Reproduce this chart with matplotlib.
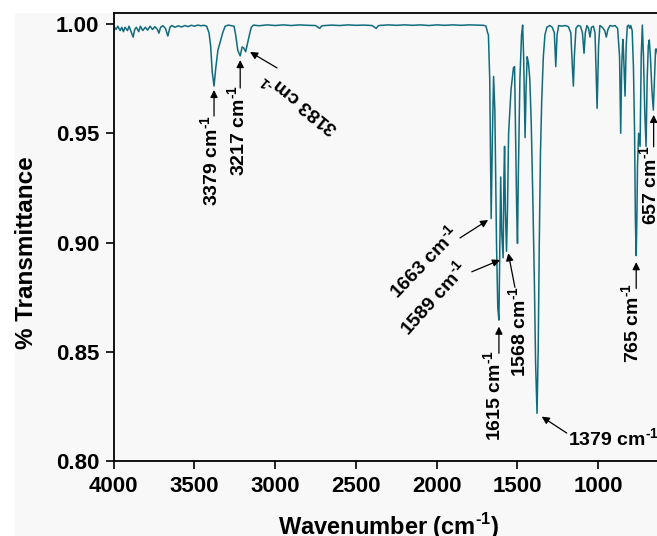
import matplotlib
matplotlib.use('Agg')
import matplotlib.pyplot as plt
from matplotlib.patches import Rectangle

plt.rcParams['font.family'] = ['Liberation Sans', 'DejaVu Sans']
plt.rcParams['font.weight'] = 'bold'
plt.rcParams['mathtext.fontset'] = 'custom'
plt.rcParams['mathtext.rm'] = 'Liberation Sans:bold'
plt.rcParams['mathtext.bf'] = 'Liberation Sans:bold'

# --- Data ---
wavenumber = [
    4000, 3985, 3975, 3960, 3950, 3940, 3930, 3915, 3905, 3890, 3880, 3870,
    3860, 3845, 3835, 3820, 3805, 3790, 3775, 3760, 3745, 3730, 3720, 3710,
    3695, 3680, 3665, 3652, 3640, 3620, 3600, 3580, 3560, 3540, 3520, 3500,
    3480, 3460, 3440, 3425, 3410, 3400, 3390, 3379, 3368, 3355, 3340, 3325,
    3310, 3290, 3270, 3255, 3245, 3232, 3217, 3205, 3195, 3183, 3172, 3160,
    3148, 3135, 3100, 3050, 3000, 2950, 2900, 2850, 2800, 2750, 2725, 2710,
    2650, 2600, 2550, 2500, 2450, 2400, 2375, 2360, 2300, 2250, 2200, 2150,
    2100, 2050, 2000, 1950, 1900, 1850, 1800, 1750, 1710, 1695, 1685, 1680,
    1672, 1663, 1655, 1648, 1640, 1630, 1622, 1615, 1609, 1604, 1598, 1589,
    1584, 1580, 1575, 1568, 1562, 1555, 1540, 1525, 1518, 1512, 1505, 1500,
    1495, 1485, 1475, 1468, 1462, 1453, 1447, 1440, 1432, 1424, 1415, 1405,
    1395, 1388, 1379, 1372, 1365, 1358, 1350, 1340, 1330, 1318, 1300, 1285,
    1272, 1263, 1255, 1245, 1225, 1205, 1185, 1170, 1160, 1154, 1148, 1138,
    1125, 1110, 1098, 1088, 1080, 1070, 1060, 1051, 1042, 1030, 1020, 1007,
    998, 990, 975, 960, 950, 940, 927, 910, 896, 880, 868, 861,
    855, 848, 844, 834, 827, 820, 812, 805, 799, 790, 782, 775,
    770, 765, 760, 757, 750, 741, 734, 727, 720, 712, 704, 697,
    690, 684, 677, 668, 659, 652, 645, 638, 630, 620, 610, 600,
]
transmittance = [
    0.9990, 0.9975, 0.9990, 0.9970, 0.9985, 0.9965, 0.9985, 0.9970, 0.9990, 0.9960, 0.9940, 0.9975,
    0.9985, 0.9965, 0.9990, 0.9970, 0.9985, 0.9972, 0.9990, 0.9975, 0.9988, 0.9975, 0.9958, 0.9985,
    0.9992, 0.9980, 0.9945, 0.9985, 0.9993, 0.9985, 0.9992, 0.9986, 0.9993, 0.9988, 0.9994, 0.9990,
    0.9995, 0.9992, 0.9994, 0.9990, 0.9960, 0.9900, 0.9780, 0.9716, 0.9800, 0.9880, 0.9920, 0.9960,
    0.9990, 0.9995, 0.9992, 0.9990, 0.9950, 0.9880, 0.9854, 0.9895, 0.9890, 0.9873, 0.9910, 0.9950,
    0.9985, 0.9995, 0.9992, 0.9996, 0.9993, 0.9996, 0.9993, 0.9996, 0.9994, 0.9993, 0.9980, 0.9992,
    0.9995, 0.9993, 0.9996, 0.9994, 0.9995, 0.9993, 0.9980, 0.9993, 0.9996, 0.9994, 0.9996, 0.9994,
    0.9996, 0.9993, 0.9996, 0.9994, 0.9996, 0.9994, 0.9996, 0.9995, 0.9994, 0.9990, 0.9960, 0.9950,
    0.9750, 0.9110, 0.9500, 0.9760, 0.9600, 0.9000, 0.8700, 0.8645, 0.9000, 0.9300, 0.9050, 0.8930,
    0.9300, 0.9440, 0.9150, 0.8960, 0.9150, 0.9500, 0.9700, 0.9800, 0.9805, 0.9500, 0.9150, 0.8996,
    0.9300, 0.9750, 0.9950, 0.9995, 0.9850, 0.9480, 0.9700, 0.9850, 0.9820, 0.9750, 0.9550, 0.9200,
    0.8800, 0.8450, 0.8218, 0.8500, 0.9000, 0.9400, 0.9650, 0.9850, 0.9950, 0.9985, 0.9993, 0.9985,
    0.9960, 0.9805, 0.9950, 0.9993, 0.9990, 0.9993, 0.9988, 0.9960, 0.9800, 0.9716, 0.9850, 0.9980,
    0.9993, 0.9990, 0.9960, 0.9866, 0.9960, 0.9993, 0.9980, 0.9940, 0.9985, 0.9990, 0.9960, 0.9614,
    0.9900, 0.9993, 0.9985, 0.9970, 0.9940, 0.9975, 0.9993, 0.9990, 0.9993, 0.9980, 0.9850, 0.9500,
    0.9800, 0.9930, 0.9880, 0.9670, 0.9900, 0.9990, 0.9995, 0.9980, 0.9993, 0.9970, 0.9800, 0.9500,
    0.9100, 0.8940, 0.9150, 0.9350, 0.9500, 0.9440, 0.9850, 0.9995, 0.9850, 0.9600, 0.9440, 0.9750,
    0.9900, 0.9927, 0.9850, 0.9700, 0.9606, 0.9750, 0.9885, 0.9885, 0.9850, 0.9900, 0.9880, 0.9900,
]

# peak labels: (label, text pos, rotation, ha, va, arrow tail, arrow head)
peak_labels = [
    ('3379', (3354, 0.9584), 90, 'right', 'baseline', (3379, 0.9579), (3379, 0.9698)),
    ('3217', (3187, 0.9721), 90, 'right', 'baseline', (3217, 0.9707), (3217, 0.9835)),
    ('3183', (2846, 0.9638), 141, 'center', 'center', (2989, 0.9799), (3156, 0.9872)),
    ('1663', (2079, 0.8911), 46, 'center', 'center', (1856, 0.9021), (1682, 0.9103)),
    ('1589', (2017, 0.8746), 48, 'center', 'center', (1783, 0.8866), (1608, 0.8920)),
    ('1568', (1447, 0.8800), 90, 'right', 'baseline', (1516, 0.8795), (1557, 0.8951)),
    ('1615', (1602, 0.8508), 90, 'right', 'baseline', (1615, 0.8493), (1615, 0.8615)),
    ('1379', (1187, 0.8069), 0, 'left', 'baseline', (1195, 0.8128), (1350, 0.8203)),
    ('765', (747, 0.8813), 90, 'right', 'baseline', (765, 0.8790), (765, 0.8910)),
    ('657', (636, 0.9446), 90, 'right', 'baseline', (657, 0.9438), (657, 0.9584)),
]

xticks = [4000, 3500, 3000, 2500, 2000, 1500, 1000]
yticks = [0.80, 0.85, 0.90, 0.95, 1.00]

unit = r' cm$^{\mathbf{\text{-}1}}$'

# --- Figure ---
bg = '#f8f8f8'
fig = plt.figure(figsize=(6.57, 5.36), dpi=100, facecolor=bg)
fig.patches.append(Rectangle((0, 0), 14 / 657, 1, transform=fig.transFigure,
                             color='white', zorder=-5))
fig.patches.append(Rectangle((0, 1 - 12 / 536), 1, 12 / 536, transform=fig.transFigure,
                             color='white', zorder=-5))
ax = fig.add_axes([0.1731, 0.1399, 0.8358, 0.8353])
ax.set_facecolor(bg)

ax.plot(wavenumber, transmittance, color='#106b7d', lw=1.1)

for label, txt, rot, ha, va, tail, head in peak_labels:
    ax.text(txt[0], txt[1], label + unit, rotation=rot,
            rotation_mode='anchor', ha=ha, va=va, fontsize=14, fontweight='bold')
    ax.annotate('', xy=head, xytext=tail,
                arrowprops=dict(arrowstyle='-|>', color='black', lw=0.9,
                                mutation_scale=11, shrinkA=0, shrinkB=0))

ax.set_xlim(4000, 600)
ax.set_ylim(0.80, 1.0049)
ax.set_xticks(xticks)
ax.set_yticks(yticks)
ax.set_yticklabels([f'{v:.2f}' for v in yticks])
ax.tick_params(labelsize=16, length=5.5, width=1.2, pad=5)

for s in ax.spines.values():
    s.set_linewidth(1.3)

ax.set_xlabel('Wavenumber' + ' (cm$^{\\mathbf{\\text{-}1}}$)', fontsize=17, fontweight='bold')
ax.set_ylabel('% Transmittance', fontsize=17.5, fontweight='bold')
ax.xaxis.set_label_coords(0.5, -0.112)
ax.yaxis.set_label_coords(-0.138, 0.466)

fig.savefig('out.png', dpi=100, facecolor=bg)
